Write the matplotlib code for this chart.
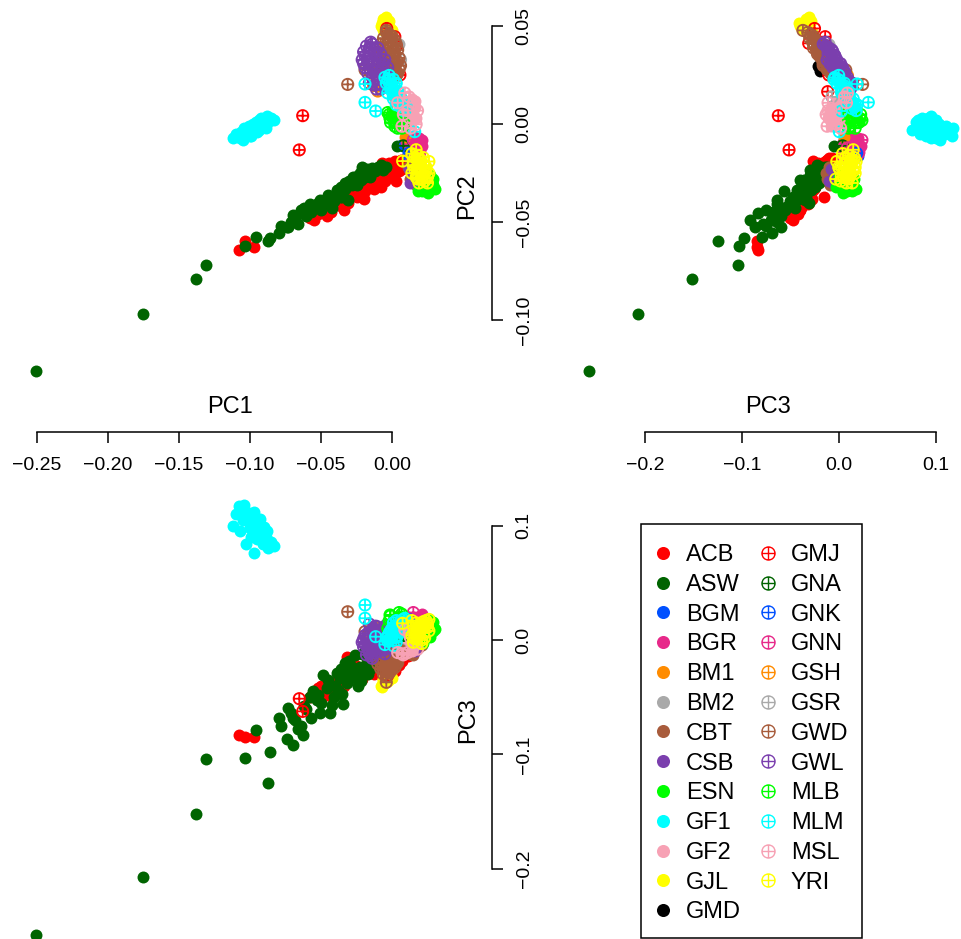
import numpy as np
import matplotlib
matplotlib.use('Agg')
import matplotlib.pyplot as plt
from matplotlib.path import Path
from matplotlib.lines import Line2D
from matplotlib.patches import Rectangle

plt.rcParams['font.family'] = ['Liberation Sans', 'DejaVu Sans']

# populations, in plotting and legend order
pops = ['ACB', 'ASW', 'BGM', 'BGR', 'BM1', 'BM2', 'CBT', 'CSB', 'ESN', 'GF1',
        'GF2', 'GJL', 'GMD', 'GMJ', 'GNA', 'GNK', 'GNN', 'GSH', 'GSR', 'GWD',
        'GWL', 'MLB', 'MLM', 'MSL', 'YRI']
base_cols = ['#FF0000', '#006400', '#0050FF', '#E7298A', '#FF8C00', '#A9A9A9',
             '#A85C3C', '#7B3FAE', '#00FF00', '#00FFFF', '#F7A1B4', '#FFFF00',
             '#000000']
colors = base_cols + base_cols[:12]
hollow = [False] * 13 + [True] * 12

pc1_ticks = [-0.25, -0.20, -0.15, -0.10, -0.05, 0.00]
pc2_ticks = [-0.10, -0.05, 0.00, 0.05]
pc3_ticks = [-0.2, -0.1, 0.0, 0.1]

# samples as (PC1, PC2, PC3)
acb = [(-0.1075, -0.0645, -0.083), (-0.1033, -0.0595, -0.0845), (-0.0970, -0.0625, -0.0845),
       (-0.058, -0.048, -0.050), (-0.052, -0.046, -0.042), (-0.048, -0.043, -0.045),
       (-0.044, -0.042, -0.038), (-0.041, -0.040, -0.040), (-0.038, -0.041, -0.032),
       (-0.035, -0.038, -0.034), (-0.032, -0.037, -0.015), (-0.030, -0.034, -0.028),
       (-0.027, -0.036, -0.030), (-0.024, -0.032, -0.025), (-0.021, -0.033, -0.034),
       (-0.018, -0.029, -0.022), (-0.015, -0.030, -0.026), (-0.012, -0.027, -0.020),
       (-0.010, -0.024, -0.023), (-0.008, -0.028, -0.018), (-0.006, -0.022, -0.025),
       (-0.004, -0.025, -0.016), (-0.002, -0.020, -0.021), (0.000, -0.023, -0.025),
       (0.002, -0.019, -0.027), (0.004, -0.021, -0.019), (0.006, -0.018, -0.012),
       (0.008, -0.020, -0.016), (0.010, -0.017, -0.007), (0.012, -0.019, -0.013),
       (-0.020, -0.038, -0.028), (-0.026, -0.030, -0.022), (-0.013, -0.033, -0.030),
       (-0.034, -0.044, -0.040), (-0.046, -0.047, -0.048), (-0.001, -0.026, -0.028),
       (0.005, -0.024, -0.022), (-0.008, -0.032, -0.024), (0.003, -0.029, -0.020),
       (-0.055, -0.049, -0.047), (-0.050, -0.044, -0.040), (-0.043, -0.045, -0.043),
       (-0.039, -0.038, -0.036), (-0.036, -0.042, -0.038), (-0.031, -0.040, -0.033),
       (-0.028, -0.033, -0.026), (-0.025, -0.037, -0.031), (-0.022, -0.030, -0.027),
       (-0.019, -0.034, -0.029), (-0.016, -0.027, -0.019), (-0.014, -0.032, -0.024),
       (-0.011, -0.029, -0.027), (-0.009, -0.026, -0.021), (-0.005, -0.029, -0.023),
       (-0.003, -0.023, -0.019), (0.001, -0.027, -0.024), (0.003, -0.022, -0.015),
       (0.007, -0.023, -0.018), (0.009, -0.018, -0.011), (0.011, -0.022, -0.014),
       (0.013, -0.017, -0.010), (-0.007, -0.020, -0.017), (-0.017, -0.031, -0.027)]
asw = [(-0.251, -0.126, -0.258), (-0.1756, -0.0968, -0.207), (-0.1383, -0.0789, -0.152),
       (-0.131, -0.0719, -0.104), (-0.1033, -0.0622, -0.103), (-0.0875, -0.0597, -0.125),
       (-0.0859, -0.0583, -0.098), (-0.096, -0.0578, -0.079), (-0.0794, -0.0554, -0.0685),
       (-0.0742, -0.0523, -0.0868), (-0.0730, -0.0523, -0.0597), (-0.0695, -0.0489, -0.0918),
       (-0.0695, -0.0464, -0.068), (-0.0683, -0.0489, -0.070), (-0.0625, -0.0455, -0.083),
       (-0.0606, -0.0470, -0.060), (-0.0554, -0.0429, -0.045), (-0.053, -0.0420, -0.0525),
       (-0.0507, -0.0387, -0.064), (-0.0484, -0.0400, -0.0306), (-0.0437, -0.0410, -0.064),
       (-0.0425, -0.0429, -0.0565), (-0.039, -0.0336, -0.029), (-0.0378, -0.0336, -0.0434),
       (-0.0366, -0.0370, -0.0335), (-0.0354, -0.0370, -0.047), (-0.0347, -0.0340, -0.056),
       (-0.0331, -0.0302, -0.0204), (-0.0319, -0.0302, -0.0379), (-0.0308, -0.0387, -0.0348),
       (-0.0272, -0.0268, -0.0296), (-0.026, -0.0268, -0.0131), (-0.0237, -0.0285, -0.040),
       (-0.0225, -0.0250, -0.0233), (-0.022, -0.0285, -0.0356), (-0.0202, -0.0234, -0.0296),
       (-0.0178, -0.0230, -0.016), (-0.0155, -0.0268, -0.025), (-0.0143, -0.0225, -0.020),
       (-0.0061, -0.0234, -0.012), (0.0033, -0.0109, -0.0045), (-0.064, -0.044, -0.075),
       (-0.058, -0.041, -0.050), (-0.046, -0.038, -0.042), (-0.050, -0.044, -0.055),
       (-0.040, -0.036, -0.040), (-0.028, -0.031, -0.024), (-0.017, -0.026, -0.030),
       (-0.010, -0.022, -0.018), (-0.066, -0.051, -0.078), (-0.057, -0.045, -0.068),
       (-0.078, -0.052, -0.075), (-0.071, -0.050, -0.064), (-0.062, -0.043, -0.058),
       (-0.052, -0.040, -0.048), (-0.045, -0.036, -0.035), (-0.041, -0.039, -0.050),
       (-0.033, -0.033, -0.030), (-0.030, -0.029, -0.018), (-0.025, -0.031, -0.034),
       (-0.019, -0.027, -0.023), (-0.012, -0.024, -0.015), (-0.008, -0.021, -0.022),
       (-0.004, -0.022, -0.014), (-0.021, -0.022, -0.012), (-0.036, -0.032, -0.025)]
bgm = [(0.008, -0.010, 0.012), (0.011, -0.016, 0.020)]
bgr = [(0.011, -0.006, 0.008), (0.015, -0.006, 0.014), (0.019, -0.007, 0.020),
       (0.010, -0.009, 0.004), (0.014, -0.010, 0.011), (0.018, -0.010, 0.018),
       (0.021, -0.011, 0.023), (0.012, -0.013, 0.006), (0.016, -0.014, 0.016),
       (0.020, -0.014, 0.021), (0.013, -0.016, 0.002), (0.017, -0.016, 0.012),
       (0.013, -0.008, 0.016), (0.017, -0.012, 0.008), (0.021, -0.008, 0.017),
       (0.011, -0.011, 0.013), (0.015, -0.015, 0.020), (0.019, -0.016, 0.004)]
bm1 = [(0.009, -0.0065, 0.005)]
bm2 = [(0.005, 0.041, -0.010)]
cbt = [(0.011, -0.022, -0.010), (0.015, -0.025, -0.013), (0.019, -0.027, -0.006),
       (0.013, -0.028, -0.012), (0.021, -0.024, -0.004), (0.017, -0.031, -0.009)]
csb = [(0.012, -0.023, -0.008), (0.014, -0.027, -0.005), (0.016, -0.029, -0.010),
       (0.013, -0.030, -0.006)]
esn = [(0.020, -0.027, 0.000), (0.024, -0.029, 0.006), (0.028, -0.030, 0.012),
       (0.022, -0.032, -0.003), (0.026, -0.033, 0.018), (0.029, -0.031, 0.008),
       (0.018, -0.034, 0.014), (0.027, -0.026, 0.003), (0.023, -0.031, 0.015),
       (0.025, -0.035, 0.004), (0.029, -0.028, 0.016), (0.021, -0.034, 0.009),
       (0.030, -0.033, 0.010)]
gf1 = [(-0.112, -0.007, 0.100), (-0.110, -0.005, 0.110), (-0.108, -0.006, 0.117),
       (-0.106, -0.004, 0.113), (-0.105, -0.008, 0.105), (-0.104, -0.002, 0.118),
       (-0.102, -0.005, 0.108), (-0.101, -0.001, 0.111), (-0.100, -0.003, 0.098),
       (-0.099, -0.006, 0.090), (-0.098, 0.000, 0.104), (-0.097, -0.002, 0.112),
       (-0.096, 0.001, 0.096), (-0.095, -0.004, 0.088), (-0.094, 0.002, 0.100),
       (-0.093, -0.001, 0.106), (-0.092, 0.003, 0.092), (-0.091, 0.000, 0.084),
       (-0.090, 0.002, 0.099), (-0.089, -0.002, 0.090), (-0.088, 0.004, 0.095),
       (-0.087, 0.001, 0.080), (-0.085, 0.003, 0.086), (-0.083, 0.002, 0.082),
       (-0.097, -0.003, 0.076), (-0.103, -0.005, 0.084), (-0.107, -0.007, 0.095),
       (-0.100, -0.006, 0.102), (-0.094, -0.003, 0.094), (-0.090, 0.000, 0.088)]
gf2 = [(0.006, 0.014, 0.004), (0.010, 0.012, -0.002), (0.014, 0.013, 0.006),
       (0.008, 0.009, -0.006), (0.012, 0.008, 0.001), (0.016, 0.009, -0.004),
       (0.005, 0.006, -0.009), (0.010, 0.004, -0.003), (0.014, 0.005, -0.010),
       (0.008, 0.002, 0.003), (0.012, 0.000, -0.007), (0.017, 0.003, 0.000),
       (0.007, 0.011, -0.004), (0.011, 0.010, 0.003), (0.015, 0.007, -0.006),
       (0.009, 0.006, 0.000), (0.013, 0.002, -0.005), (0.006, 0.003, -0.011),
       (0.016, 0.012, 0.002), (0.010, -0.001, -0.008)]
gjl = [(-0.006, 0.054, -0.034), (-0.004, 0.055, -0.031), (-0.002, 0.053, -0.029),
       (-0.008, 0.050, -0.040), (-0.005, 0.049, -0.038), (-0.003, 0.051, -0.036),
       (0.000, 0.048, -0.033), (-0.007, 0.052, -0.041), (-0.001, 0.047, -0.028),
       (-0.004, 0.052, -0.033), (-0.006, 0.048, -0.036), (-0.002, 0.050, -0.031)]
gmd = [(-0.006, 0.030, -0.021), (-0.004, 0.027, -0.019)]
gmj = [(-0.0037, 0.049, -0.025), (-0.003, 0.0414, -0.031), (0.002, 0.0448, -0.014),
       (0.003, 0.040, -0.018), (0.0056, 0.0252, -0.0102), (0.002, 0.0167, -0.0114),
       (-0.0629, 0.0044, -0.0624), (-0.0653, -0.0131, -0.0513)]
gna = [(0.008, -0.011, 0.004)]
gnk = [(0.012, -0.0148, 0.0186)]
gnn = [(0.015, -0.008, 0.024), (0.019, -0.012, 0.009)]
gsh = [(-0.013, 0.020, 0.010), (-0.010, 0.017, 0.011), (-0.009, 0.025, 0.009)]
gsr = [(0.006, 0.033, -0.008), (0.002, 0.014, -0.007)]
gwd = [(-0.004, 0.047, -0.032), (-0.002, 0.046, -0.029), (0.000, 0.045, -0.026),
       (-0.006, 0.044, -0.030), (0.002, 0.043, -0.024), (-0.003, 0.042, -0.027),
       (-0.008, 0.041, -0.025), (0.001, 0.040, -0.022), (0.004, 0.038, -0.020),
       (-0.005, 0.038, -0.023), (-0.010, 0.037, -0.021), (0.002, 0.036, -0.018),
       (-0.002, 0.035, -0.019), (0.005, 0.034, -0.015), (-0.007, 0.033, -0.017),
       (0.003, 0.031, -0.012), (-0.004, 0.030, -0.014), (0.005, 0.028, -0.010),
       (-0.001, 0.027, -0.009), (-0.009, 0.028, -0.012), (0.003, 0.025, -0.006),
       (-0.011, 0.030, -0.016), (-0.001, 0.044, -0.027), (0.003, 0.041, -0.021),
       (-0.006, 0.039, -0.026), (0.001, 0.037, -0.020), (-0.004, 0.036, -0.022),
       (0.004, 0.032, -0.014), (-0.006, 0.031, -0.016), (0.001, 0.029, -0.011),
       (0.006, 0.030, -0.009), (-0.002, 0.032, -0.015), (0.004, 0.026, -0.008),
       (-0.008, 0.035, -0.020), (-0.0312, 0.0204, 0.0247), (-0.019, 0.0278, 0.0073),
       (-0.004, 0.048, -0.037)]
gwl = [(-0.018, 0.040, -0.013), (-0.014, 0.041, -0.016), (-0.010, 0.039, -0.010),
       (-0.020, 0.037, -0.006), (-0.016, 0.036, -0.011), (-0.012, 0.035, -0.004),
       (-0.008, 0.036, -0.008), (-0.021, 0.033, -0.002), (-0.017, 0.032, -0.008),
       (-0.013, 0.031, 0.002), (-0.009, 0.032, -0.005), (-0.005, 0.033, -0.012),
       (-0.019, 0.029, 0.004), (-0.015, 0.028, -0.003), (-0.011, 0.027, 0.006),
       (-0.007, 0.028, 0.001), (-0.003, 0.029, -0.006), (-0.014, 0.024, 0.009),
       (-0.010, 0.023, 0.003), (-0.006, 0.022, 0.011), (-0.012, 0.020, 0.012),
       (-0.008, 0.018, 0.007), (-0.004, 0.019, 0.013), (-0.016, 0.021, 0.014),
       (-0.002, 0.024, -0.001), (-0.016, 0.039, -0.012), (-0.012, 0.038, -0.007),
       (-0.019, 0.035, -0.004), (-0.014, 0.033, -0.006), (-0.010, 0.030, 0.000),
       (-0.006, 0.031, -0.009), (-0.017, 0.026, 0.006), (-0.013, 0.022, 0.010),
       (-0.009, 0.025, 0.004), (-0.005, 0.026, -0.003), (-0.011, 0.018, 0.012),
       (-0.007, 0.020, 0.009), (-0.020, 0.031, 0.001), (-0.015, 0.042, -0.014)]
mlb = [(-0.003, 0.006, 0.010), (0.000, 0.004, 0.014), (0.003, 0.007, 0.018),
       (-0.001, 0.001, 0.021), (0.002, -0.001, 0.012), (0.005, 0.002, 0.024),
       (0.007, -0.002, 0.017), (0.009, 0.000, 0.008), (-0.0014, 0.003, 0.0219),
       (0.0068, 0.005, 0.0227), (0.002, 0.002, 0.016), (0.006, 0.001, 0.020),
       (-0.002, 0.005, 0.017), (0.004, -0.002, 0.010)]
mlm = [(-0.005, 0.024, -0.004), (-0.002, 0.025, 0.000), (0.001, 0.023, -0.005),
       (-0.004, 0.021, 0.002), (0.000, 0.020, 0.005), (0.003, 0.021, -0.002),
       (-0.001, 0.018, 0.008), (0.004, 0.017, 0.004), (0.002, 0.015, 0.011),
       (0.006, 0.014, 0.007), (0.004, 0.012, 0.013), (0.008, 0.011, 0.010),
       (0.006, 0.009, 0.016), (0.010, 0.008, 0.014), (0.009, 0.010, 0.019),
       (-0.003, 0.016, 0.003), (-0.003, 0.023, -0.001), (0.002, 0.019, 0.002),
       (-0.002, 0.021, 0.006), (0.005, 0.016, 0.009), (0.001, 0.013, 0.015),
       (0.007, 0.012, 0.012), (0.008, 0.007, 0.018), (0.011, 0.009, 0.016),
       (0.003, 0.010, 0.017), (0.000, 0.017, 0.010), (-0.019, 0.0206, 0.019),
       (-0.019, 0.0112, 0.0306), (-0.0115, 0.0068, 0.0029), (0.016, -0.0038, 0.0006)]
msl = [(0.004, 0.011, -0.011), (0.009, 0.016, 0.009), (0.018, 0.007, -0.008),
       (0.007, -0.001, -0.012), (0.013, -0.002, 0.002), (0.015, 0.011, 0.008),
       (0.011, 0.007, -0.011), (0.012, 0.014, 0.006), (0.008, 0.005, -0.013),
       (0.017, 0.000, -0.002)]
yri = [(0.014, -0.015, 0.004), (0.018, -0.016, 0.010), (0.022, -0.017, 0.016),
       (0.015, -0.019, -0.002), (0.019, -0.020, 0.006), (0.023, -0.021, 0.013),
       (0.026, -0.019, 0.018), (0.016, -0.023, 0.001), (0.020, -0.024, 0.009),
       (0.024, -0.024, 0.015), (0.017, -0.027, 0.005), (0.021, -0.028, -0.003),
       (0.025, -0.027, 0.011), (0.019, -0.030, 0.008), (0.023, -0.029, 0.002),
       (0.014, -0.025, 0.017), (0.016, -0.017, 0.007), (0.020, -0.018, 0.013),
       (0.024, -0.022, 0.017), (0.018, -0.022, 0.003), (0.022, -0.026, 0.012),
       (0.026, -0.025, 0.008), (0.018, -0.028, 0.010), (0.021, -0.022, 0.000),
       (0.025, -0.030, 0.014), (0.015, -0.021, 0.012), (0.017, -0.013, 0.015),
       (0.0075, -0.0188, 0.0146)]

samples = [acb, asw, bgm, bgr, bm1, bm2, cbt, csb, esn, gf1, gf2, gjl, gmd,
           gmj, gna, gnk, gnn, gsh, gsr, gwd, gwl, mlb, mlm, msl, yri]

# R's pch=10: circle with a plus inside
cross = Path([(-1, 0), (1, 0), (0, -1), (0, 1)],
             [Path.MOVETO, Path.LINETO, Path.MOVETO, Path.LINETO])
oplus = Path.make_compound_path(Path.unit_circle(), cross)

W, H = 961, 939
fig = plt.figure(figsize=(W / 100, H / 100), dpi=100)


def px_rect(x0, y0, x1, y1):
    return [x0 / W, 1 - y1 / H, (x1 - x0) / W, (y1 - y0) / H]


def panel(rect, xlim, ylim):
    ax = fig.add_axes(px_rect(*rect))
    ax.set_xlim(xlim)
    ax.set_ylim(ylim)
    for s in ax.spines.values():
        s.set_visible(False)
        s.set_linewidth(1.1)
    ax.set_xticks([])
    ax.set_yticks([])
    ax.patch.set_alpha(0)
    ax.tick_params(direction='out', length=8, width=1.1, labelsize=14)
    return ax


def bottom_axis(ax, ticks):
    ax.spines['bottom'].set_visible(True)
    ax.spines['bottom'].set_bounds(ticks[0], ticks[-1])
    ax.set_xticks(ticks)
    ax.tick_params(axis='x', pad=10)


def right_axis(ax, ticks):
    ax.spines['right'].set_visible(True)
    ax.spines['right'].set_bounds(ticks[0], ticks[-1])
    ax.yaxis.tick_right()
    ax.set_yticks(ticks)
    ax.tick_params(axis='y', pad=9, labelrotation=90)
    for t in ax.get_yticklabels():
        t.set_va('center')


ax12 = panel((0, 0, 492, 431.7), (-0.27606, 0.070423), (-0.157157, 0.063548))
ax32 = panel((500, 0, 961, 431.7), (-0.34990, 0.12634), (-0.157157, 0.063548))
ax13 = panel((0, 470, 492, 939), (-0.27606, 0.070423), (-0.26136, 0.14860))

bottom_axis(ax12, pc1_ticks)
right_axis(ax12, pc2_ticks)
bottom_axis(ax32, pc3_ticks)
right_axis(ax13, pc3_ticks)

for pts, col, open_mark in zip(samples, colors, hollow):
    pc = np.array(pts)
    for ax, (i, j) in ((ax12, (0, 1)), (ax32, (2, 1)), (ax13, (0, 2))):
        if open_mark:
            ax.scatter(pc[:, i], pc[:, j], s=66, marker=oplus, facecolors='none',
                       edgecolors=col, linewidths=1.3, clip_on=False)
        else:
            ax.scatter(pc[:, i], pc[:, j], s=74, marker='o', color=col,
                       linewidths=0, clip_on=False)

fig.text(230 / W, 1 - 406.7 / H, 'PC1', fontsize=17, ha='center', va='center')
fig.text(768 / W, 1 - 406.7 / H, 'PC3', fontsize=17, ha='center', va='center')
fig.text(467 / W, 1 - 196 / H, 'PC2', fontsize=17, ha='center', va='center', rotation=90)
fig.text(468 / W, 1 - 720 / H, 'PC3', fontsize=17, ha='center', va='center', rotation=90)

handles = []
for col, open_mark in zip(colors, hollow):
    if open_mark:
        handles.append(Line2D([], [], ls='none', marker=oplus, markersize=9.4,
                              markerfacecolor='none', markeredgecolor=col,
                              markeredgewidth=1.0))
    else:
        handles.append(Line2D([], [], ls='none', marker='o', markersize=9.4,
                              color=col, markeredgewidth=0))

# legend entries without frame; the box is drawn separately
leg = fig.legend(handles, pops, ncol=2, loc='upper left',
                 bbox_to_anchor=(653.85 / W, 1 - 544 / H), fontsize=17,
                 frameon=False, borderpad=0, handlelength=0.8, handletextpad=0.56,
                 columnspacing=0.75, labelspacing=0.33, borderaxespad=0)
fig.add_artist(Rectangle((641 / W, 1 - 938.3 / H), (862 - 641) / W, (938.3 - 524.3) / H,
                         transform=fig.transFigure, fill=False, edgecolor='black',
                         linewidth=1.1))

fig.savefig('out.png', dpi=100)
